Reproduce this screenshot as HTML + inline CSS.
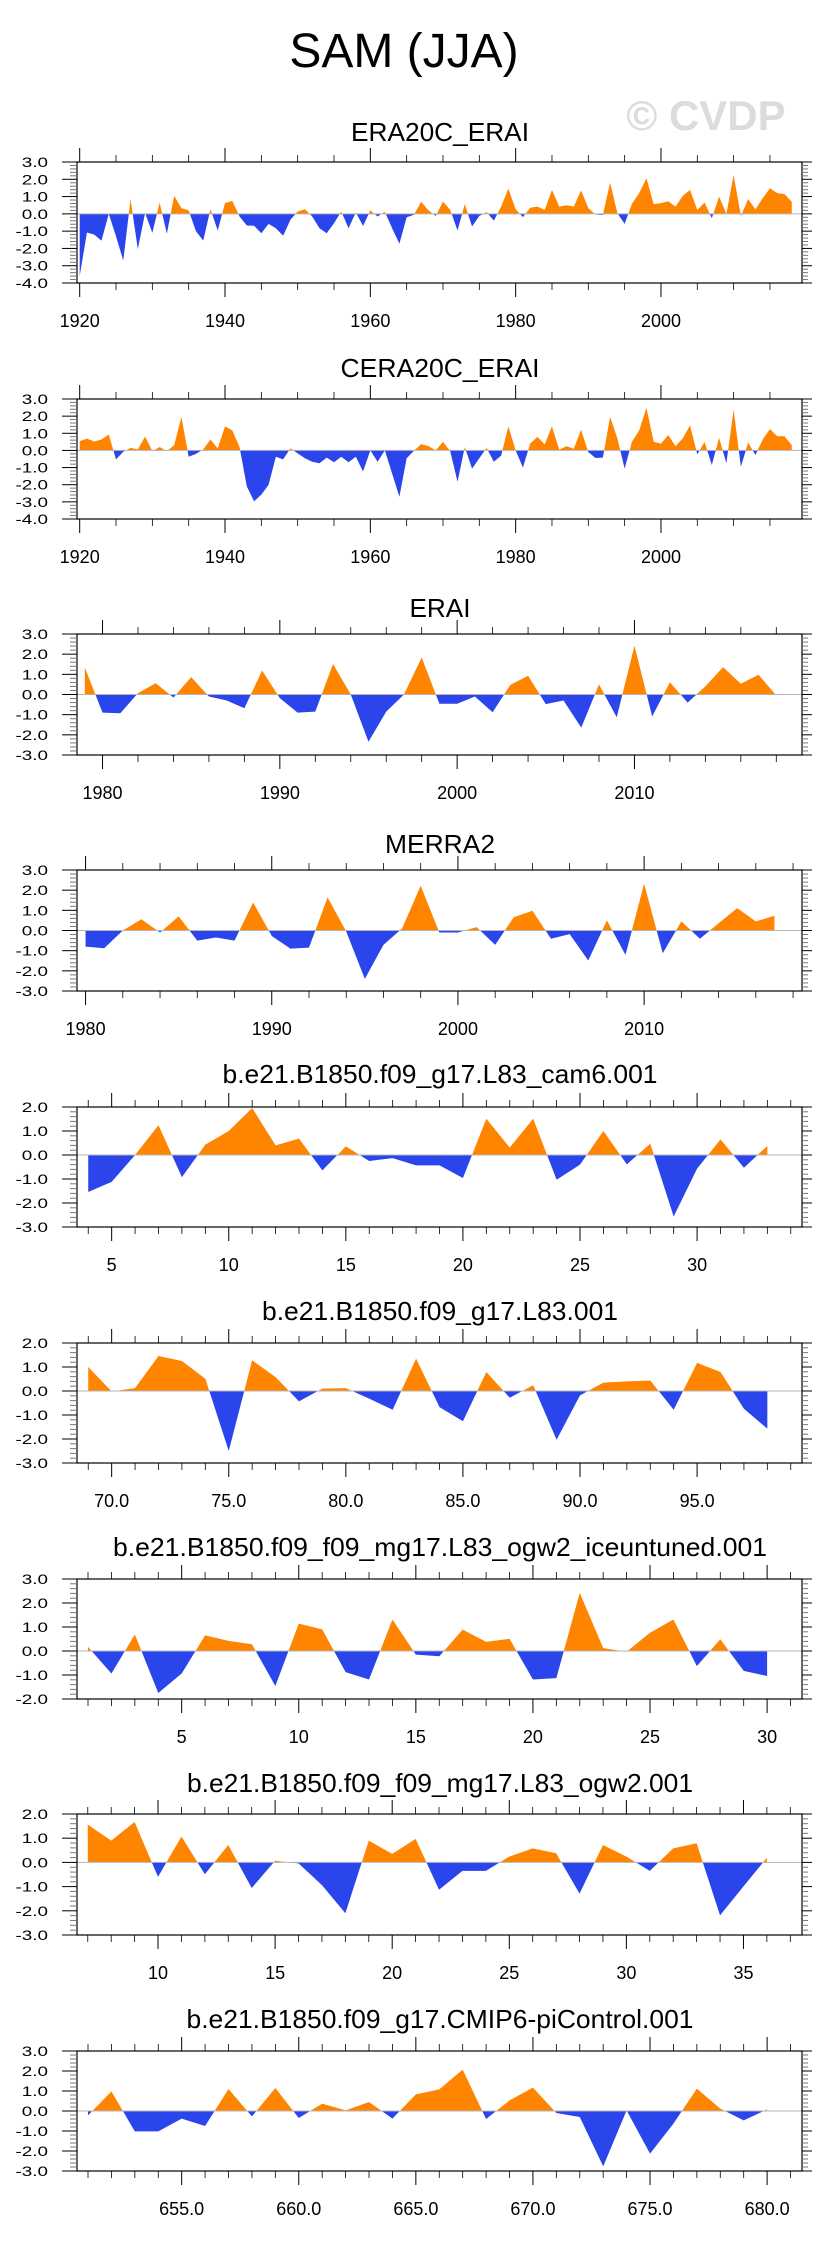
<!DOCTYPE html>
<html><head><meta charset="utf-8">
<style>
html,body{margin:0;padding:0;background:#fff;}
svg{display:block;font-family:"Liberation Sans",Arial,sans-serif;}
</style></head>
<body>
<svg id="chart" width="829" height="2245" viewBox="0 0 829 2245" xmlns="http://www.w3.org/2000/svg">
<rect x="0" y="0" width="829" height="2245" fill="#fff"/>
<text x="404" y="67" font-size="48" text-anchor="middle" fill="#000">SAM (JJA)</text>
<text x="706" y="130" font-size="42" font-weight="bold" text-anchor="middle" fill="#dcdcdc">© CVDP</text>
</svg>
<script>
// ---- data ----
const p1Start = 1920;
const p1Values = [-3.6,-1.08,-1.2,-1.55,0,-1.3,-2.7,0.85,-2.05,0.05,-1.1,0.65,-1.15,1.04,0.33,0.2,-1.0,-1.55,0.27,-0.96,0.62,0.75,-0.15,-0.67,-0.69,-1.12,-0.58,-0.83,-1.27,-0.35,0.14,0.27,-0.15,-0.83,-1.12,-0.54,0.14,-0.83,0.08,-0.7,0.2,-0.15,0.12,-0.83,-1.73,-0.2,-0.05,0.7,0.2,-0.12,0.71,0.23,-0.96,0.56,-0.73,-0.12,0.1,-0.39,0.42,1.46,0.27,-0.19,0.35,0.42,0.23,1.39,0.42,0.5,0.42,1.35,0.33,-0.04,-0.06,1.81,0.04,-0.58,0.58,1.2,2.06,0.56,0.62,0.73,0.42,1.04,1.39,0.23,0.65,-0.25,1.0,0,2.25,-0.12,0.85,0.27,0.9,1.48,1.2,1.14,0.7];
const p2Start = 1920;
const p2Values = [0.54,0.69,0.52,0.64,0.93,-0.52,-0.08,0.15,0.06,0.81,-0.04,0.2,-0.04,0.3,1.95,-0.37,-0.2,0.06,0.64,0.12,1.4,1.17,0.2,-2.1,-2.97,-2.58,-2.0,-0.37,-0.52,0.12,-0.17,-0.46,-0.66,-0.75,-0.42,-0.69,-0.37,-0.69,-0.37,-1.23,0,-0.66,0,-1.35,-2.7,-0.46,-0.02,0.37,0.25,0,0.5,-0.05,-1.83,0.2,-1.06,-0.46,0.15,-0.66,-0.3,1.4,0,-1.0,0.4,0.79,0.35,1.4,0.04,0.25,0.1,1.21,-0.1,-0.44,-0.42,1.95,0.7,-1.06,0.5,1.17,2.48,0.5,0.4,0.89,0.25,0.7,1.46,-0.23,0.5,-0.85,0.73,-0.75,2.37,-0.95,0.46,-0.27,0.64,1.25,0.83,0.83,0.3];
const p3Start = 1979;
const p3Values = [1.34,-0.9,-0.93,0.07,0.56,-0.15,0.86,-0.1,-0.3,-0.68,1.19,-0.18,-0.9,-0.85,1.51,0.0,-2.34,-0.85,0,1.84,-0.46,-0.46,-0.1,-0.88,0.48,0.93,-0.48,-0.3,-1.64,0.5,-1.13,2.42,-1.09,0.61,-0.4,0.4,1.36,0.53,0.98,-0.05];
const p4Start = 1980;
const p4Values = [-0.8,-0.88,0,0.56,-0.1,0.7,-0.5,-0.35,-0.5,1.39,-0.27,-0.9,-0.85,1.64,-0.05,-2.4,-0.71,0.1,2.22,-0.1,-0.1,0.17,-0.71,0.66,0.98,-0.41,-0.18,-1.49,0.5,-1.21,2.32,-1.13,0.45,-0.41,0.36,1.11,0.45,0.73];
const p5Start = 4;
const p5Values = [-1.54,-1.12,0,1.24,-0.92,0.43,1.0,1.96,0.4,0.68,-0.64,0.36,-0.25,-0.13,-0.43,-0.43,-0.96,1.51,0.31,1.51,-1.03,-0.4,1.0,-0.39,0.47,-2.56,-0.57,0.65,-0.53,0.38];
const p6Start = 69;
const p6Values = [1.0,-0.02,0.12,1.46,1.25,0.51,-2.5,1.28,0.58,-0.43,0.1,0.12,-0.32,-0.78,1.35,-0.67,-1.26,0.79,-0.28,0.24,-2.03,-0.18,0.35,0.4,0.44,-0.78,1.17,0.79,-0.74,-1.57];
const p7Start = 1;
const p7Values = [0.17,-0.94,0.69,-1.75,-0.94,0.65,0.42,0.28,-1.46,1.14,0.9,-0.88,-1.19,1.31,-0.15,-0.22,0.89,0.38,0.51,-1.19,-1.13,2.42,0.12,-0.03,0.76,1.31,-0.63,0.49,-0.83,-1.04];
const p8Start = 7;
const p8Values = [1.56,0.9,1.67,-0.6,1.07,-0.49,0.72,-1.06,0.07,-0.04,-0.94,-2.1,0.9,0.35,0.97,-1.13,-0.35,-0.35,0.24,0.58,0.38,-1.29,0.72,0.24,-0.35,0.58,0.79,-2.19,-0.99,0.19];
const p9Start = 651;
const p9Values = [-0.22,0.98,-1.02,-1.02,-0.38,-0.75,1.1,-0.27,1.15,-0.35,0.37,0.03,0.45,-0.38,0.83,1.08,2.07,-0.4,0.53,1.17,-0.1,-0.3,-2.77,0.03,-2.13,-0.63,1.12,0.12,-0.47,0.08];

const p1Ticks = [1920,1940,1960,1980,2000];
const p3Ticks = [1980,1990,2000,2010];
const p4Ticks = [1980,1990,2000,2010];
const p5Ticks = ["5","10","15","20","25","30"];
const p6Ticks = ["70.0","75.0","80.0","85.0","90.0","95.0"];
const p7Ticks = ["5","10","15","20","25","30"];
const p8Ticks = ["10","15","20","25","30","35"];
const p9Ticks = ["655.0","660.0","665.0","670.0","675.0","680.0"];

const titles = ["ERA20C_ERAI","CERA20C_ERAI","ERAI","MERRA2","b.e21.B1850.f09_g17.L83_cam6.001","b.e21.B1850.f09_g17.L83.001","b.e21.B1850.f09_f09_mg17.L83_ogw2_iceuntuned.001","b.e21.B1850.f09_f09_mg17.L83_ogw2.001","b.e21.B1850.f09_g17.CMIP6-piControl.001"];

// ---- layout ----
const panels = [
 {name:"era20c-erai",start:p1Start,vals:p1Values,top:162,bot:283,ymax:3,ymin:-4,xmin:1919.63,xmax:2019.41,ticks:p1Ticks,minor:5,minorFrom:1920,minorTo:2015,tb:141,tw:178},
 {name:"cera20c-erai",start:p2Start,vals:p2Values,top:399,bot:519,ymax:3,ymin:-4,xmin:1919.63,xmax:2019.41,ticks:p1Ticks,minor:5,minorFrom:1920,minorTo:2015,tb:377,tw:199},
 {name:"erai",start:p3Start,vals:p3Values,top:634,bot:755,ymax:3,ymin:-3,xmin:1978.56,xmax:2019.45,ticks:p3Ticks,minor:2,minorFrom:1980,minorTo:2018,tb:617,tw:61},
 {name:"merra2",start:p4Start,vals:p4Values,top:870,bot:991,ymax:3,ymin:-3,xmin:1979.54,xmax:2018.48,ticks:p4Ticks,minor:2,minorFrom:1980,minorTo:2018,tb:853,tw:110},
 {name:"cam6",start:p5Start,vals:p5Values,top:1107,bot:1227,ymax:2,ymin:-3,xmin:3.52,xmax:34.48,ticks:p5Ticks,minor:1,minorFrom:4,minorTo:34,tb:1083,tw:435},
 {name:"l83",start:p6Start,vals:p6Values,top:1343,bot:1463,ymax:2,ymin:-3,xmin:68.52,xmax:99.48,ticks:p6Ticks,minor:1,minorFrom:69,minorTo:99,tb:1320,tw:356},
 {name:"ogw2-iceuntuned",start:p7Start,vals:p7Values,top:1579,bot:1699,ymax:3,ymin:-2,xmin:0.53,xmax:31.49,ticks:p7Ticks,minor:1,minorFrom:1,minorTo:31,tb:1556,tw:654},
 {name:"ogw2",start:p8Start,vals:p8Values,top:1814,bot:1935,ymax:2,ymin:-3,xmin:6.54,xmax:37.5,ticks:p8Ticks,minor:1,minorFrom:7,minorTo:37,tb:1792,tw:506},
 {name:"picontrol",start:p9Start,vals:p9Values,top:2051,bot:2171,ymax:3,ymin:-3,xmin:650.53,xmax:681.49,ticks:p9Ticks,minor:1,minorFrom:651,minorTo:681,tb:2028,tw:507}
];
const L=77,R=802,NS="http://www.w3.org/2000/svg";
const svg=document.getElementById('chart');
function mk(tag,attrs,parent){const e=document.createElementNS(NS,tag);for(const k in attrs)e.setAttribute(k,attrs[k]);(parent||svg).appendChild(e);return e;}

panels.forEach((p,pi)=>{
  const g=mk('g',{});
  
  
  const xs=v=>L+(v-p.xmin)/(p.xmax-p.xmin)*(R-L);
  const ys=v=>p.top+(p.ymax-v)/(p.ymax-p.ymin)*(p.bot-p.top);
  const y0=ys(0);
  // title
  const t=mk('text',{x:440,y:p.tb,'font-size':26,'text-anchor':'middle',textLength:p.tw,lengthAdjust:'spacingAndGlyphs'},g);
  t.textContent=titles[pi];
  
  
  // clips
  const defs=mk('defs',{},g);
  const ca=mk('clipPath',{id:'ca'+pi},defs); mk('rect',{x:L,y:p.top,width:R-L,height:y0-p.top},ca);
  const cb=mk('clipPath',{id:'cb'+pi},defs); mk('rect',{x:L,y:y0,width:R-L,height:p.bot-y0},cb);
  let d='M'+xs(p.start).toFixed(2)+','+y0.toFixed(2);
  p.vals.forEach((v,i)=>{d+=' L'+xs(p.start+i).toFixed(2)+','+ys(v).toFixed(2);});
  d+=' L'+xs(p.start+p.vals.length-1).toFixed(2)+','+y0.toFixed(2)+' Z';
  const a1=mk('path',{d:d,fill:'#ff8400','clip-path':'url(#ca'+pi+')'},g);
  
  
  const a2=mk('path',{d:d,fill:'#2945eb','clip-path':'url(#cb'+pi+')'},g);
  
  
  const zl=mk('line',{x1:L,x2:R,y1:y0,y2:y0,stroke:'#b4b4b4','stroke-width':1},g);
  
  
  const fr=mk('rect',{x:L,y:p.top,width:R-L,height:p.bot-p.top,fill:'none',stroke:'#000','stroke-width':1.2},g);
  
  
  // y ticks
  const yt=mk('g',{},g);
  
  
  for(let k=Math.round(p.ymin*5);k<=Math.round(p.ymax*5);k++){
    const v=k/5,y=ys(v),maj=(k%5===0);
    mk('line',{x1:L-(maj?15:7),x2:L,y1:y,y2:y,stroke:maj?'#000':'#777','stroke-width':1},yt);
    mk('line',{x1:R,x2:R+(maj?10:6),y1:y,y2:y,stroke:maj?'#000':'#777','stroke-width':1},yt);
    if(maj){
      const lb=mk('text',{x:0,y:0,'font-size':13.5,'text-anchor':'end',transform:'translate(48,'+(y+5).toFixed(1)+') scale(1.4,1)'},yt);
      lb.textContent=v.toFixed(1);
      
      
    }
  }
  // x ticks
  const xt=mk('g',{},g);
  
  
  const majVals=p.ticks.map(s=>parseFloat(s));
  for(let v=p.minorFrom;v<=p.minorTo+1e-9;v+=p.minor){
    if(majVals.some(m=>Math.abs(m-v)<1e-6))continue;
    const x=xs(v);
    mk('line',{x1:x,x2:x,y1:p.bot,y2:p.bot+7,stroke:'#000','stroke-width':0.8},xt);
    mk('line',{x1:x,x2:x,y1:p.top,y2:p.top-7,stroke:'#000','stroke-width':0.8},xt);
  }
  p.ticks.forEach(s=>{
    const x=xs(parseFloat(s));
    mk('line',{x1:x,x2:x,y1:p.bot,y2:p.bot+14,stroke:'#000','stroke-width':1},xt);
    mk('line',{x1:x,x2:x,y1:p.top,y2:p.top-14,stroke:'#000','stroke-width':1},xt);
    const lb=mk('text',{x:x,y:p.bot+44,'font-size':18,'text-anchor':'middle'},xt);
    lb.textContent=String(s);
    
    
  });
});
</script>
</body></html>
